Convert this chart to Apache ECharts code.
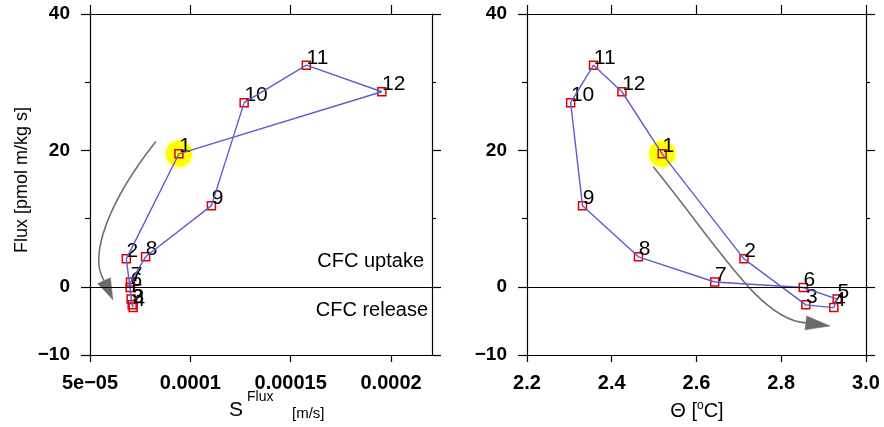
<!DOCTYPE html>
<html>
<head>
<meta charset="utf-8">
<script src="https://cdn.jsdelivr.net/npm/echarts@6/dist/echarts.min.js"></script>
<style>
html,body{margin:0;padding:0;background:#fff;}
#chart{width:884px;height:427px;}
</style>
</head>
<body>
<div id="chart"></div>
<script>
// ---- data ----
const months = ['1','2','3','4','5','6','7','8','9','10','11','12'];
const flux = [19.5, 4.1, -2.65, -3.05, -1.8, -0.1, 0.7, 4.4, 11.9, 27.0, 32.5, 28.6];
const sFlux = [9.43e-5, 6.81e-5, 7.1e-5, 7.15e-5, 7.05e-5, 7.0e-5, 7.02e-5, 7.77e-5, 11.05e-5, 12.68e-5, 15.78e-5, 19.54e-5];
const theta = [2.519, 2.712, 2.858, 2.924, 2.932, 2.852, 2.643, 2.463, 2.331, 2.303, 2.357, 2.424];

const yMajorTicks = [-10, 0, 20, 40];
const yMinorTicks = [10, 30];
const yTickLabels = ['\u221210', '0', '20', '40'];
const sTickVals = [5e-5, 1e-4, 1.5e-4, 2e-4];
const sTickLabels = ['5e\u221205', '0.0001', '0.00015', '0.0002'];
const tTickVals = [2.2, 2.4, 2.6, 2.8, 3.0];
const tTickLabels = ['2.2', '2.4', '2.6', '2.8', '3.0'];

// annotation arrows (start, ctrl1, ctrl2, end, tip) in data coordinates
const leftArrowX = [8.28e-5, 6.0e-5, 4.9e-5, 5.7e-5, 6.14e-5];
const leftArrowY = [21.3, 12.8, 4.7, 0.9, -1.9];
const rightArrowX = [2.498, 2.657, 2.751, 2.858, 2.915];
const rightArrowY = [17.6, 5.44, -4.85, -5.29, -5.74];

// ---- styling ----
const FONT = 'Liberation Sans, Arial, sans-serif';
const axisLine = {show: true, onZero: false, lineStyle: {color: '#000', width: 1.2}};

function lookup(vals, labels) {
  return function (v) {
    for (let i = 0; i < vals.length; i++) if (Math.abs(v - vals[i]) < 1e-9 * Math.max(1, Math.abs(vals[i])) + 1e-12) return labels[i];
    return '';
  };
}

function yAxes(gridIndex) {
  return [
    { type: 'value', gridIndex, position: 'left', min: -10, max: 40,
      axisLine, splitLine: {show: false},
      axisTick: {show: true, length: 9, customValues: yMajorTicks, lineStyle: {color: '#000', width: 1.2}},
      axisLabel: {show: true, customValues: yMajorTicks, margin: 20, formatter: lookup(yMajorTicks, yTickLabels),
        color: '#000', fontFamily: FONT, fontSize: 19, fontWeight: 'bold'} },
    { type: 'value', gridIndex, position: 'left', min: -10, max: 40, offset: 0,
      axisLine: {show: false}, splitLine: {show: false},
      axisTick: {show: true, length: 5, customValues: yMinorTicks, lineStyle: {color: '#000', width: 1.2}},
      axisLabel: {show: false} },
    { type: 'value', gridIndex, position: 'right', min: -10, max: 40,
      axisLine, splitLine: {show: false},
      axisTick: {show: true, length: 9, customValues: yMajorTicks, lineStyle: {color: '#000', width: 1.2}},
      axisLabel: {show: false} },
    { type: 'value', gridIndex, position: 'right', min: -10, max: 40, offset: 0,
      axisLine: {show: false}, splitLine: {show: false},
      axisTick: {show: true, length: 4, customValues: yMinorTicks, lineStyle: {color: '#000', width: 1.2}},
      axisLabel: {show: false} }
  ];
}

function xAxes(gridIndex, min, max, vals, labels) {
  return [
    { type: 'value', gridIndex, position: 'bottom', min, max,
      axisLine, splitLine: {show: false},
      axisTick: {show: true, length: 7, customValues: vals, lineStyle: {color: '#000', width: 1.2}},
      axisLabel: {show: true, customValues: vals, margin: 18, formatter: lookup(vals, labels),
        color: '#000', fontFamily: FONT, fontSize: 20, fontWeight: 'bold'} },
    { type: 'value', gridIndex, position: 'top', min, max,
      axisLine, splitLine: {show: false},
      axisTick: {show: true, length: 9, customValues: vals, lineStyle: {color: '#000', width: 1.2}},
      axisLabel: {show: false} }
  ];
}

function arrowRenderer(xs, ys) {
  return function (params, api) {
    const p = xs.map((x, i) => api.coord([x, ys[i]]));
    const p0 = p[0], c1 = p[1], c2 = p[2], p3 = p[3], tip = p[4];
    const dx = tip[0] - p3[0], dy = tip[1] - p3[1];
    const L = Math.hypot(dx, dy) || 1;
    const nx = -dy / L, ny = dx / L, hw = 7;
    return { type: 'group', children: [
      { type: 'bezierCurve', shape: {x1: p0[0], y1: p0[1], cpx1: c1[0], cpy1: c1[1], cpx2: c2[0], cpy2: c2[1], x2: p3[0], y2: p3[1]},
        style: {stroke: '#707070', lineWidth: 1.6, fill: 'none'} },
      { type: 'polygon', shape: {points: [tip, [p3[0] + nx * hw, p3[1] + ny * hw], [p3[0] - nx * hw, p3[1] - ny * hw]]},
        style: {fill: '#6b6b6b', stroke: '#6b6b6b', lineWidth: 0.5} }
    ]};
  };
}

function panelSeries(xs, xAxisIndex, yAxisIndex, arrowX, arrowY) {
  const pts = months.map((m, i) => ({name: m, value: [xs[i], flux[i]]}));
  const loop = months.map((m, i) => [xs[i], flux[i]]).concat([[xs[0], flux[0]]]);
  return [
    { type: 'line', xAxisIndex, yAxisIndex, data: [], silent: true,
      markLine: { silent: true, symbol: ['none', 'none'], label: {show: false},
        lineStyle: {color: '#000', width: 1, type: 'solid'}, data: [{yAxis: 0}] } },
    { type: 'custom', xAxisIndex, yAxisIndex, data: [[0, 0]], renderItem: arrowRenderer(arrowX, arrowY), silent: true, clip: false },
    { type: 'scatter', xAxisIndex, yAxisIndex, data: [[xs[0], flux[0]]], symbol: 'circle', symbolSize: 26,
      itemStyle: {color: '#ffff00', opacity: 1, shadowBlur: 4, shadowColor: '#ffff40'}, silent: true },
    { type: 'line', xAxisIndex, yAxisIndex, data: loop, symbol: 'none', smooth: false,
      lineStyle: {color: '#5c5ccf', width: 1.4}, silent: true },
    { type: 'scatter', xAxisIndex, yAxisIndex, data: pts, symbol: 'rect', symbolSize: 8,
      itemStyle: {color: 'rgba(0,0,0,0)', opacity: 1, borderColor: '#dd0000', borderWidth: 1.5},
      label: {show: true, formatter: '{b}', position: [5, 8], align: 'left', verticalAlign: 'bottom',
        color: '#000', opacity: 1, fontFamily: FONT, fontSize: 21}, silent: true }
  ];
}

const chart = echarts.init(document.getElementById('chart'), null, {renderer: 'canvas'});
const option = {
  animation: false,
  backgroundColor: '#fff',
  grid: [
    {left: 90, right: 452, top: 14, bottom: 72},
    {left: 527, right: 18, top: 14, bottom: 72}
  ],
  xAxis: [].concat(
    xAxes(0, 5e-5, 0.0002204, sTickVals, sTickLabels),
    xAxes(1, 2.2, 3.0, tTickVals, tTickLabels)
  ),
  yAxis: [].concat(yAxes(0), yAxes(1)),
  series: [].concat(
    panelSeries(sFlux, 0, 0, leftArrowX, leftArrowY),
    panelSeries(theta, 2, 4, rightArrowX, rightArrowY)
  ),
  graphic: [
    {type: 'text', x: 22, y: 180, rotation: Math.PI / 2, style: {text: 'Flux [pmol m/kg s]', align: 'center', verticalAlign: 'middle', font: '18px ' + FONT, fill: '#000'}},
    {type: 'text', x: 424, y: 261, style: {text: 'CFC uptake', align: 'right', verticalAlign: 'middle', font: '20px ' + FONT, fill: '#000'}},
    {type: 'text', x: 428, y: 310, style: {text: 'CFC release', align: 'right', verticalAlign: 'middle', font: '20px ' + FONT, fill: '#000'}},
    {type: 'text', x: 243, y: 410, style: {text: 'S', align: 'right', verticalAlign: 'middle', font: '21px ' + FONT, fill: '#000'}},
    {type: 'text', x: 247, y: 397, style: {text: 'Flux', align: 'left', verticalAlign: 'middle', font: '14px ' + FONT, fill: '#000'}},
    {type: 'text', x: 292, y: 414, style: {text: '[m/s]', align: 'left', verticalAlign: 'middle', font: '15px ' + FONT, fill: '#000'}},
    {type: 'text', x: 697, y: 411, style: {
      text: '{a|\u0398 [}{s|o}{a|C]}', align: 'center', verticalAlign: 'middle',
      rich: {a: {font: '20px ' + FONT, fill: '#000', lineHeight: 22}, s: {font: '12px ' + FONT, fill: '#000', verticalAlign: 'top', lineHeight: 22}}
    }}
  ]
};
chart.setOption(option);
</script>
</body>
</html>
